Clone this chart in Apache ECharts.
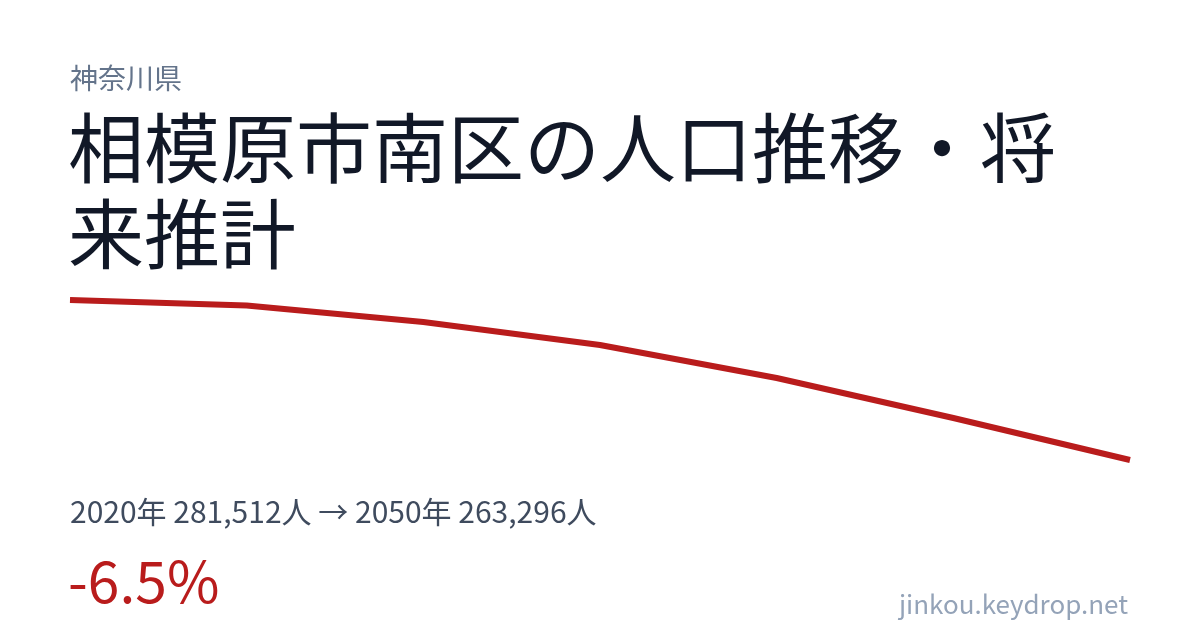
<!DOCTYPE html>
<html><head><meta charset="utf-8">
<script src="https://cdn.jsdelivr.net/npm/echarts@6/dist/echarts.min.js"></script>
<style>html,body{margin:0;padding:0;background:#fff}#c{width:1200px;height:630px}</style>
</head><body><div id="c"></div>
<script>
const years = ['2020','2025','2030','2035','2040','2045','2050'];
const population = [281512, 280886, 279007, 276389, 272632, 268078, 263296];
const prefecture = '神奈川県';
const titleText = '相模原市南区の人口推移・将\n来推計';
const summaryText = '2020年 281,512人 → 2050年 263,296人';
const changeText = '-6.5%';
const siteText = 'jinkou.keydrop.net';

const FF = '"Noto Sans CJK JP", "Noto Sans", sans-serif';
const chart = echarts.init(document.getElementById('c'), null, {renderer: 'canvas'});
chart.setOption({
  backgroundColor: '#ffffff',
  animation: false,
  grid: {left: 70, right: 70, top: 300, height: 160},
  xAxis: {type: 'category', data: years, boundaryGap: false, show: false},
  yAxis: {type: 'value', min: Math.min(...population), max: Math.max(...population), show: false},
  series: [{
    type: 'line', data: population, symbol: 'none',
    lineStyle: {color: '#b91c1c', width: 6, cap: 'butt', join: 'round'}
  }],
  graphic: [
    {type: 'text', left: 70, top: 64, style: {text: prefecture, font: '400 28px ' + FF, fill: '#64748b'}},
    {type: 'text', left: 68, top: 105, style: {text: titleText, font: '400 76px ' + FF, fill: '#111827', lineHeight: 86}},
    {type: 'text', left: 70, top: 497, style: {text: summaryText, font: '400 30px ' + FF, fill: '#3f4b5e'}},
    {type: 'text', left: 68, top: 553, style: {text: changeText, font: '400 57px ' + FF, fill: '#b91c1c'}},
    {type: 'text', right: 72, top: 591, style: {text: siteText, font: '400 26px ' + FF, fill: '#94a3b8'}}
  ]
});
</script></body></html>
